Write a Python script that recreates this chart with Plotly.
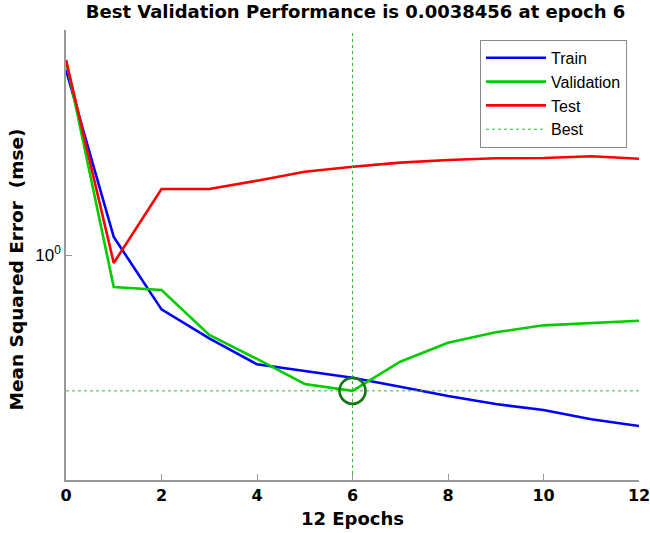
import plotly.graph_objects as go

epochs = list(range(13))
train_mse = [1950, 2.09, 0.108, 0.0330, 0.0114, 0.00877, 0.00659, 0.00456, 0.00311, 0.00224, 0.00175, 0.00120, 0.000912]
val_mse = [2930, 0.270, 0.239, 0.0378, 0.0142, 0.00509, 0.0038456, 0.01268, 0.0276, 0.0422, 0.0562, 0.0626, 0.0679]
test_mse = [2930, 0.721, 14.9, 14.9, 20.9, 30.3, 37.1, 43.8, 48.9, 52.4, 53.0, 56.9, 51.5]
best_epoch = 6
best_perf = 0.0038456
y_min, y_max = 1e-4, 1e4
x_ticks = [0, 2, 4, 6, 8, 10, 12]

FONT = "Liberation Sans, Arial, sans-serif"
WIDE = "DejaVu Sans, Verdana, sans-serif"

fig = go.Figure()
fig.add_trace(go.Scatter(x=epochs, y=train_mse, mode="lines", name="Train",
                         line=dict(color="#0000ff", width=2.6)))
fig.add_trace(go.Scatter(x=epochs, y=val_mse, mode="lines", name="Validation",
                         line=dict(color="#00cc00", width=2.6)))
fig.add_trace(go.Scatter(x=epochs, y=test_mse, mode="lines", name="Test",
                         line=dict(color="#ff0000", width=2.6)))
fig.add_trace(go.Scatter(x=[best_epoch, best_epoch, None, epochs[0], epochs[-1]],
                         y=[y_min, y_max, None, best_perf, best_perf],
                         mode="lines", name="Best",
                         line=dict(color="#33bb33", width=1, dash="dot")))
fig.add_trace(go.Scatter(x=[best_epoch], y=[best_perf], mode="markers", showlegend=False,
                         marker=dict(symbol="circle-open", size=26,
                                     line=dict(color="#117711", width=2.6), color="#117711")))

fig.update_layout(
    width=650, height=533,
    margin=dict(l=66, r=11, t=30, b=53, autoexpand=False),
    paper_bgcolor="white", plot_bgcolor="white",
    font=dict(family=FONT, color="black"),
    title=dict(text="<b>Best Validation Performance is 0.0038456 at epoch 6</b>",
               x=0.547, xanchor="center", y=0.99, yanchor="top",
               font=dict(size=18, family=WIDE)),
    legend=dict(x=0.7225, xanchor="left", y=0.978, yanchor="top",
                bgcolor="white", bordercolor="#888888", borderwidth=1,
                font=dict(size=16, family=FONT), itemwidth=60, tracegroupgap=0),
    showlegend=True,
    annotations=[dict(text="<b>Mean Squared Error  (mse)</b>", textangle=-90,
                      xref="paper", yref="paper", x=-0.0864, y=0.469,
                      xanchor="center", yanchor="middle", showarrow=False,
                      font=dict(size=18.5, family=WIDE))],
)
fig.update_xaxes(range=[0, 12], tickvals=x_ticks, ticktext=[f"<b>{t}</b>" for t in x_ticks],
                 showgrid=False, zeroline=False, showline=True, linecolor="#999999", linewidth=1.5,
                 ticks="inside", ticklen=6, tickcolor="#999999", tickfont=dict(size=16, family=WIDE),
                 automargin=False, ticklabeloverflow="allow",
                 title=dict(text="<b>12 Epochs</b>", font=dict(size=18, family=WIDE), standoff=8))
fig.update_yaxes(type="log", range=[-4, 4], tickvals=[1], ticktext=["10<sup>0</sup>"],
                 showgrid=False, zeroline=False, showline=True, linecolor="#999999", linewidth=1.5,
                 ticks="inside", ticklen=6, tickcolor="#999999", tickfont=dict(size=17, family=FONT),
                 automargin=False, ticklabeloverflow="allow")

fig.write_html("out.html")
